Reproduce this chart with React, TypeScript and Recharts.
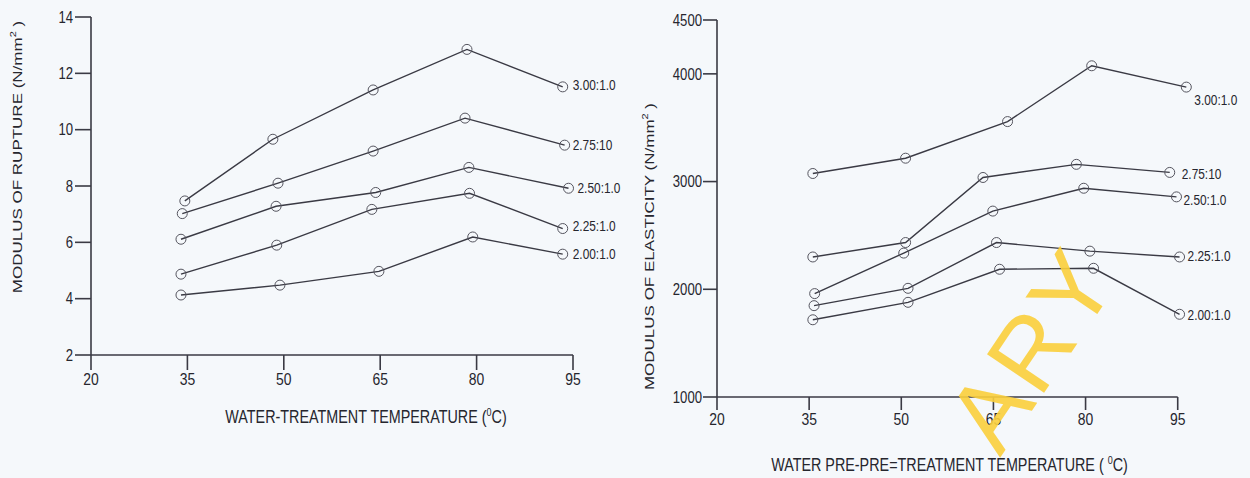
import { LineChart, Line, XAxis, YAxis, ReferenceLine, Label } from "recharts";

// mix ratios, top curve first
const ratioLabels = ["3.00:1.0", "2.75:10", "2.50:1.0", "2.25:1.0", "2.00:1.0"];
const tempTicks = [20, 35, 50, 65, 80, 95];
const ruptureTicks = [2, 4, 6, 8, 10, 12, 14];
const elasticityTicks = [1000, 2000, 3000, 4000, 4500];

// modulus of rupture (N/mm2), temperatures read per curve
const ruptureTemp300 = [34.6, 48.3, 63.9, 78.5, 93.4];
const rupture300 = [7.47, 9.66, 11.41, 12.85, 11.52];
const ruptureTemp275 = [34.2, 49.1, 63.9, 78.2, 93.7];
const rupture275 = [7.02, 8.1, 9.24, 10.41, 9.45];
const ruptureTemp250 = [34.0, 48.8, 64.3, 78.8, 94.3];
const rupture250 = [6.11, 7.28, 7.77, 8.66, 7.92];
const ruptureTemp225 = [34.0, 48.9, 63.7, 78.9, 93.4];
const rupture225 = [4.87, 5.9, 7.17, 7.74, 6.49];
const ruptureTemp200 = [34.0, 49.4, 64.8, 79.4, 93.4];
const rupture200 = [4.13, 4.48, 4.97, 6.19, 5.58];

// modulus of elasticity (N/mm2)
const elasticityTemp300 = [35.6, 50.7, 67.3, 81.0, 96.4];
const elasticity300 = [3075, 3217, 3557, 4075, 3877];
const elasticityTemp275 = [35.6, 50.7, 63.3, 78.5, 93.7];
const elasticity275 = [2300, 2434, 3038, 3160, 3085];
const elasticityTemp250 = [35.9, 50.4, 64.9, 79.7, 94.8];
const elasticity250 = [1960, 2336, 2726, 2938, 2858];
const elasticityTemp225 = [35.8, 51.1, 65.5, 80.7, 95.3];
const elasticity225 = [1848, 2009, 2434, 2354, 2300];
const elasticityTemp200 = [35.6, 51.1, 66.0, 81.3, 95.3];
const elasticity200 = [1717, 1879, 2186, 2195, 1768];

const toPoints = (temps: number[], values: number[]) =>
  temps.map((temp, i) => ({ temp, value: values[i] }));

const ruptureSeries = [
  toPoints(ruptureTemp300, rupture300),
  toPoints(ruptureTemp275, rupture275),
  toPoints(ruptureTemp250, rupture250),
  toPoints(ruptureTemp225, rupture225),
  toPoints(ruptureTemp200, rupture200),
];

const elasticitySeries = [
  toPoints(elasticityTemp300, elasticity300),
  toPoints(elasticityTemp275, elasticity275),
  toPoints(elasticityTemp250, elasticity250),
  toPoints(elasticityTemp225, elasticity225),
  toPoints(elasticityTemp200, elasticity200),
];

// where the end labels sit next to the last circle
const ruptureLabelShift = [[10, -2], [8, 0], [9, 0], [10, -3], [10, 0]];
const elasticityLabelShift = [[8, 13], [12, 1], [7, 3], [8, -1], [8, 0]];

const FONT = "'Liberation Sans', Arial, sans-serif";
const INK = "#26262e";
const LINE = "#3a3a44";
const SQUASH = 0.82;

const XTick = (props: any) => {
  const { x, y, payload } = props;
  return (
    <text
      transform={`translate(${x},${y}) scale(${SQUASH},1)`}
      textAnchor="middle"
      dy="0.71em"
      fontSize={17}
      fontFamily={FONT}
      fill={INK}
    >
      {payload.value}
    </text>
  );
};

const YTick = (props: any) => {
  const { x, y, payload } = props;
  return (
    <text
      transform={`translate(${x},${y}) scale(${SQUASH},1)`}
      textAnchor="end"
      dy="0.36em"
      fontSize={16}
      fontFamily={FONT}
      fill={INK}
    >
      {payload.value}
    </text>
  );
};

const xTitle = (before: string, after: string, shiftX: number, shiftY: number) => (props: any) => {
  const vb = props.viewBox;
  const cx = vb.x + vb.width / 2 + shiftX;
  const cy = vb.y + shiftY;
  return (
    <text
      transform={`translate(${cx},${cy}) scale(${SQUASH},1)`}
      textAnchor="middle"
      dy="0.36em"
      fontSize={17.5}
      fontFamily={FONT}
      fill={INK}
    >
      {before}
      <tspan dy={-7} fontSize={11}>0</tspan>
      <tspan dy={7}>{after}</tspan>
    </text>
  );
};

const yTitle = (before: string, shiftX: number, shiftY: number) => (props: any) => {
  const vb = props.viewBox;
  const cx = vb.x + shiftX;
  const cy = vb.y + vb.height / 2 + shiftY;
  return (
    <text
      transform={`translate(${cx},${cy}) rotate(-90) scale(1,0.78)`}
      textAnchor="middle"
      dy="0.36em"
      fontSize={17}
      fontFamily={FONT}
      fill={INK}
    >
      {before}
      <tspan dy={-7} fontSize={11}>2</tspan>
      <tspan dy={7}> )</tspan>
    </text>
  );
};

const ringDot = (name: string, shift: number[], last: number) => (p: any) => (
  <g key={`dot-${name}-${p.index}`}>
    <circle cx={p.cx} cy={p.cy} r={5} fill="none" stroke="#55555f" strokeWidth={1} />
    {p.index === last && (
      <text
        transform={`translate(${p.cx + shift[0]},${p.cy + shift[1]}) scale(${SQUASH},1)`}
        dy="0.36em"
        fontSize={14.5}
        fontFamily={FONT}
        fill={INK}
      >
        {name}
      </text>
    )}
  </g>
);

const RuptureChart = () => (
  <LineChart width={630} height={478} margin={{ top: 17, right: 57, bottom: 93, left: 0 }}>
    <XAxis
      dataKey="temp"
      type="number"
      domain={[20, 95]}
      ticks={tempTicks}
      interval={0}
      tickSize={15}
      tickMargin={3}
      tick={XTick}
      height={30}
      stroke={LINE}
      strokeWidth={1.6}
    >
      <Label content={xTitle("WATER-TREATMENT TEMPERATURE (", "C)", 34, 62)} />
    </XAxis>
    <YAxis
      dataKey="value"
      type="number"
      domain={[2, 14]}
      ticks={ruptureTicks}
      interval={0}
      width={91}
      tickSize={16}
      tickMargin={2}
      tick={YTick}
      stroke={LINE}
      strokeWidth={1.6}
    >
      <Label content={yTitle("MODULUS OF RUPTURE (N/mm", 17, -29)} />
    </YAxis>
    {ruptureSeries.map((points, i) => (
      <Line
        key={ratioLabels[i]}
        data={points}
        dataKey="value"
        type="linear"
        stroke={LINE}
        strokeWidth={1.4}
        dot={ringDot(ratioLabels[i], ruptureLabelShift[i], points.length - 1)}
        isAnimationActive={false}
      />
    ))}
  </LineChart>
);

const ElasticityChart = () => (
  <LineChart width={620} height={478} margin={{ top: 20, right: 60, bottom: 51, left: 0 }}>
    <XAxis
      dataKey="temp"
      type="number"
      domain={[20, 97]}
      ticks={tempTicks}
      interval={0}
      tickSize={13}
      tickMargin={3}
      tick={XTick}
      height={30}
      axisLine={false}
      stroke={LINE}
      strokeWidth={1.6}
    >
      <Label content={xTitle("WATER PRE-PRE=TREATMENT TEMPERATURE ( ", "C)", -4, 68)} />
    </XAxis>
    <YAxis
      dataKey="value"
      type="number"
      domain={[1000, 4500]}
      ticks={elasticityTicks}
      interval={0}
      width={87}
      tickSize={14}
      tickMargin={1}
      tick={YTick}
      stroke={LINE}
      strokeWidth={1.6}
    >
      <Label content={yTitle("MODULUS OF ELASTICITY (N/mm", 19, 38)} />
    </YAxis>
    <ReferenceLine
      segment={[{ x: 20, y: 1000 }, { x: 95, y: 1000 }]}
      stroke={LINE}
      strokeWidth={1.6}
    />
    {elasticitySeries.map((points, i) => (
      <Line
        key={ratioLabels[i]}
        data={points}
        dataKey="value"
        type="linear"
        stroke={LINE}
        strokeWidth={1.4}
        dot={ringDot(ratioLabels[i], elasticityLabelShift[i], points.length - 1)}
        isAnimationActive={false}
      />
    ))}
  </LineChart>
);

export default function App() {
  return (
    <div
      style={{
        position: "absolute",
        left: 0,
        top: 0,
        width: 1250,
        height: 478,
        overflow: "hidden",
        background: "#f5f8fb",
      }}
    >
      <div style={{ position: "absolute", left: 0, top: 0 }}>
        <RuptureChart />
      </div>
      <div style={{ position: "absolute", left: 630, top: 0 }}>
        <ElasticityChart />
      </div>
      {/* scanned-page watermark */}
      <svg
        width={1250}
        height={478}
        style={{ position: "absolute", left: 0, top: 0, pointerEvents: "none" }}
      >
        <text
          x={1000}
          y={458}
          transform="rotate(-56 1000 458)"
          fontSize={100}
          letterSpacing={4}
          fontFamily={FONT}
          fill="#fbd03c"
          opacity={0.9}
        >
          ARY
        </text>
      </svg>
    </div>
  );
}
